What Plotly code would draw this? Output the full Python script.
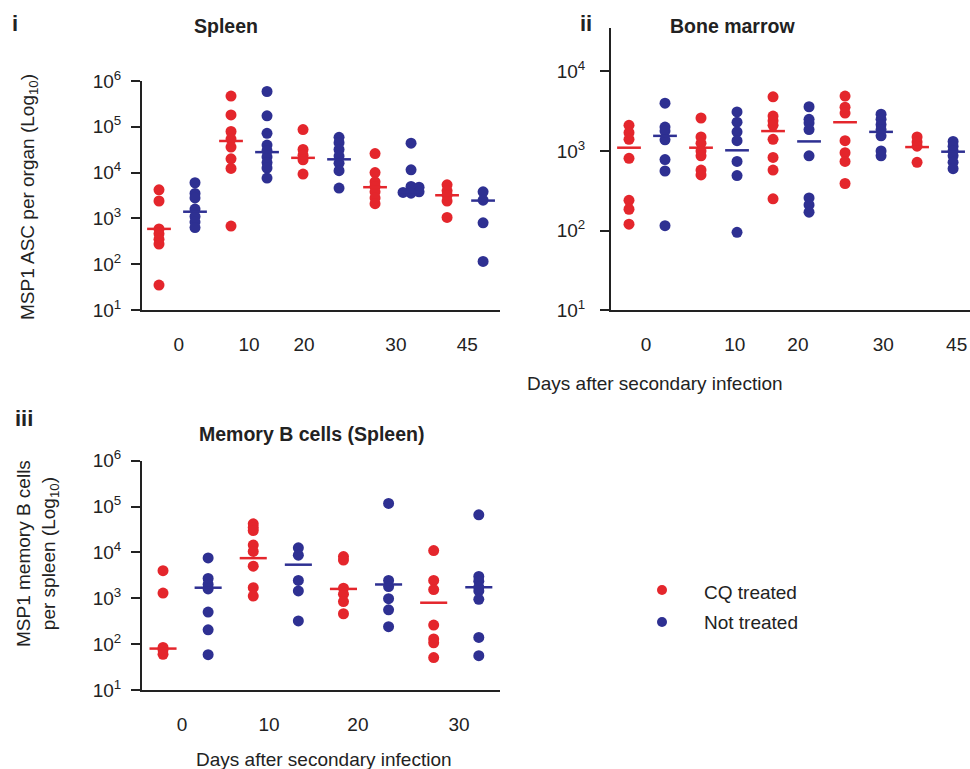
import math
import plotly.graph_objects as go

W, H = 970, 769

# ---------------- DATA ----------------
# Panel i: Spleen MSP1 ASC per organ
spleen_days = ["0", "10", "20", "30", "45"]
spleen_cq = [
    [4200, 2400, 590, 460, 350, 275, 35],
    [470000, 182000, 79000, 54000, 36000, 20000, 12300, 680],
    [87000, 32000, 24000, 19000, 9300],
    [26000, 10000, 6300, 5000, 3800, 2800, 2100],
    [5400, 4000, 3200, 2400, 1050],
]
spleen_nt = [
    [6000, 3500, 2800, 1600, 1100, 830, 630],
    [590000, 174000, 72000, 40000, 30000, 22000, 16600, 12600, 7600],
    [59000, 45000, 32000, 23000, 16000, 11000, 4600],
    [44000, 11500, 5000, 4800, 4000, 3800, 3700, 3550],
    [3800, 2500, 800, 115],
]
spleen_cq_mid = [590, 49000, 21000, 4800, 3200]
spleen_nt_mid = [1400, 28000, 19500, 3800, 2450]

# Panel ii: Bone marrow
bm_days = ["0", "10", "20", "30", "45"]
bm_cq = [
    [2100, 1700, 1400, 810, 240, 185, 120],
    [2600, 1500, 1250, 1000, 870, 575, 500],
    [4800, 2750, 2400, 2100, 1400, 830, 575, 250],
    [4900, 3550, 3000, 1350, 950, 740, 390],
    [1500, 1300, 1150, 720],
]
bm_nt = [
    [4000, 2000, 1780, 1380, 780, 560, 115],
    [3100, 2300, 1740, 1350, 740, 490, 95],
    [3600, 2500, 2250, 1860, 870, 257, 210, 170],
    [2900, 2500, 2150, 1860, 1550, 1000, 870],
    [1320, 1150, 1000, 870, 720, 600],
]
bm_cq_mid = [1100, 1100, 1780, 2300, 1120]
bm_nt_mid = [1550, 1020, 1320, 1740, 980]

# Panel iii: Memory B cells (Spleen)
mb_days = ["0", "10", "20", "30"]
mb_cq = [
    [4000, 1300, 85, 75, 60],
    [42000, 35000, 30000, 14500, 10500, 5000, 1700, 1120],
    [8100, 6800, 1660, 1230, 850, 460],
    [11000, 2450, 1550, 260, 130, 107, 51],
]
mb_nt = [
    [7600, 2700, 2000, 1600, 500, 205, 59],
    [12600, 8700, 2450, 1450, 320],
    [117000, 2450, 1800, 980, 560, 240],
    [66000, 3000, 2350, 1740, 1450, 950, 140, 56],
]
mb_cq_mid = [80, 7500, 1600, 800]
mb_nt_mid = [1700, 5400, 2000, 1740]

y_tick_vals = [10, 100, 1000, 10000, 100000, 1000000]
y_tick_text = ["10<sup>1</sup>", "10<sup>2</sup>", "10<sup>3</sup>",
               "10<sup>4</sup>", "10<sup>5</sup>", "10<sup>6</sup>"]

series_names = ["CQ treated", "Not treated"]
RED = "#E4262C"
BLUE = "#2E3092"
FONT = "Liberation Sans, Arial, sans-serif"


def px(x):
    return x / W


def py(y):
    return 1 - y / H


def swarm(vals, px_per_dec, px_per_unit, vthr=2.0, step=4.0, dmin=8.0):
    ys = [math.log10(v) * px_per_dec for v in vals]
    order = sorted(range(len(vals)), key=lambda k: -ys[k])
    offs = [0.0] * len(vals)
    placed = []
    for k in order:
        dx = 0.0
        for c in [0, 1, -1, 2, -2, 3, -3, 4, -4, 5, -5]:
            dx = c * step
            if all(not (abs(ys[k] - ys[j]) < vthr and abs(dx - offs[j]) < dmin) for j in placed):
                break
        offs[k] = dx
        placed.append(k)
    return [o / px_per_unit for o in offs]


fig = go.Figure()


def add_panel(cq, nt, cq_mid, nt_mid, xa, ya, px_per_dec, px_per_unit, half):
    n = len(cq)
    for s, (groups, mids, color) in enumerate([(cq, cq_mid, RED), (nt, nt_mid, BLUE)]):
        xs, ys = [], []
        for g in range(n):
            pos = 2 * g + s
            offs = swarm(groups[g], px_per_dec, px_per_unit)
            xs += [pos + o for o in offs]
            ys += list(groups[g])
        fig.add_trace(go.Scatter(
            x=xs, y=ys, mode="markers", xaxis=xa, yaxis=ya,
            marker=dict(size=11, color=color, line=dict(width=0)),
            name=series_names[s], showlegend=False, hoverinfo="y"))
        lx, ly = [], []
        for g in range(n):
            pos = 2 * g + s
            lx += [pos - half, pos + half, None]
            ly += [mids[g], mids[g], None]
        fig.add_trace(go.Scatter(
            x=lx, y=ly, mode="lines", xaxis=xa, yaxis=ya,
            line=dict(color=color, width=2.5), showlegend=False, hoverinfo="skip"))


add_panel(spleen_cq, spleen_nt, spleen_cq_mid, spleen_nt_mid, "x", "y", 46.0, 36.0, 0.33)
add_panel(bm_cq, bm_nt, bm_cq_mid, bm_nt_mid, "x2", "y2", 79.5, 36.0, 0.33)
add_panel(mb_cq, mb_nt, mb_cq_mid, mb_nt_mid, "x3", "y3", 46.0, 45.1, 0.30)

axis_line = dict(showline=True, linecolor="#222222", linewidth=2, showgrid=False,
                 zeroline=False, mirror=False)


def xaxis(domain, rng, tickvals, ticktext, anchor):
    return dict(domain=domain, range=rng, tickvals=tickvals, ticktext=ticktext,
                ticks="outside", ticklen=16, tickcolor="rgba(0,0,0,0)",
                ticklabeloverflow="allow",
                tickfont=dict(size=19, color="#222222", family=FONT),
                anchor=anchor, fixedrange=True, **axis_line)


def yaxis(domain, rng, anchor, standoff):
    return dict(domain=domain, type="log", range=rng, tickvals=y_tick_vals,
                ticktext=y_tick_text, ticks="outside", ticklen=9, tickwidth=2,
                tickcolor="#222222", ticklabelstandoff=standoff,
                tickfont=dict(size=19, color="#222222", family=FONT),
                anchor=anchor, fixedrange=True, **axis_line)


fig.update_layout(
    width=W, height=H, margin=dict(l=0, r=0, t=0, b=0, autoexpand=False),
    paper_bgcolor="white", plot_bgcolor="white",
    font=dict(family=FONT, color="#222222"),
    xaxis=xaxis([px(142), px(500)], [-0.472, 9.47],
                [0.55, 2.5, 4.03, 6.58, 8.56], spleen_days, "y"),
    yaxis=yaxis([py(310), py(81)], [1, 6], "x", 6),
    xaxis2=xaxis([px(611), px(970)], [-0.5, 9.47],
                 [0.47, 2.94, 4.69, 7.06, 9.1], bm_days, "y2"),
    yaxis2=yaxis([py(310), py(28)], [1, 4.547], "x2", 11),
    xaxis3=xaxis([px(142), px(500)], [-0.466, 7.47],
                 [0.42, 2.35, 4.32, 6.56], mb_days, "y3"),
    yaxis3=yaxis([py(690), py(460.7)], [1, 6], "x3", 6),
)

ann = []


def text(x, y, s, size=19, bold=False, angle=0, xanchor="center"):
    ann.append(dict(x=px(x), y=py(y), xref="paper", yref="paper", text=("<b>%s</b>" % s) if bold else s,
                    showarrow=False, textangle=angle, xanchor=xanchor, yanchor="middle",
                    font=dict(size=size, family=FONT, color="#222222")))


text(15, 23, "i", size=22, bold=True)
text(586, 23, "ii", size=22, bold=True)
text(24, 418, "iii", size=22, bold=True)
text(226, 26, "Spleen", size=19.5, bold=True)
text(732, 26, "Bone marrow", size=19.5, bold=True)
text(311, 434, "Memory B cells (Spleen)", size=19.5, bold=True)
text(29, 197, "MSP1 ASC per organ (Log<sub>10</sub>)", angle=-90)
text(37, 554, "MSP1 memory B cells<br>per spleen (Log<sub>10</sub>)", angle=-90)
text(655, 383, "Days after secondary infection")
text(324, 759, "Days after secondary infection")
text(702, 592, series_names[0], xanchor="left")
text(702, 622, series_names[1], xanchor="left")
fig.update_layout(annotations=ann)

shapes = []
for yy, col in [(590, RED), (622, BLUE)]:
    shapes.append(dict(type="circle", xref="paper", yref="paper",
                       x0=px(662 - 5), x1=px(662 + 5), y0=py(yy + 5), y1=py(yy - 5),
                       fillcolor=col, line=dict(width=0)))
fig.update_layout(shapes=shapes)

fig.write_html("out.html", config={"displayModeBar": False},
               post_script="document.body.style.margin='0';document.body.style.overflow='hidden';")
